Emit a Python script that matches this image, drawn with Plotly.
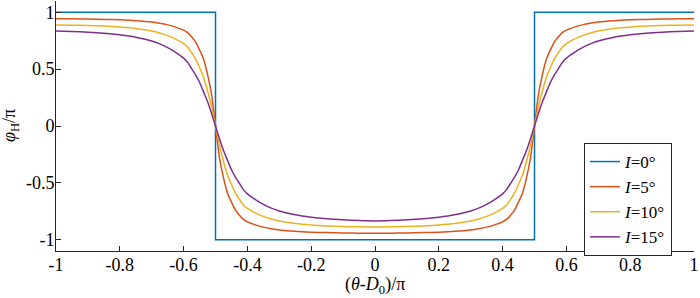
import plotly.graph_objects as go

# ---- data ----
x_step = [-1, -0.5, -0.5, 0.5, 0.5, 1]
y_i0 = [1, 1, -1, -1, 1, 1]

x_curve = [-1, -0.95, -0.9, -0.85, -0.8, -0.75, -0.7, -0.675, -0.65, -0.625, -0.6,
           -0.5875, -0.575, -0.5625, -0.55, -0.5375, -0.525, -0.5125, -0.5,
           -0.4875, -0.475, -0.4625, -0.45, -0.4375, -0.425, -0.4125, -0.4,
           -0.375, -0.35, -0.325, -0.3, -0.25, -0.2, -0.15, -0.1, -0.05, 0,
           0.05, 0.1, 0.15, 0.2, 0.25, 0.3, 0.325, 0.35, 0.375,
           0.4, 0.4125, 0.425, 0.4375, 0.45, 0.4625, 0.475, 0.4875, 0.5,
           0.5125, 0.525, 0.5375, 0.55, 0.5625, 0.575, 0.5875,
           0.6, 0.625, 0.65, 0.675, 0.7, 0.75, 0.8, 0.85, 0.9, 0.95, 1]
y_i5 = [0.944, 0.943, 0.941, 0.938, 0.934, 0.927, 0.915, 0.904, 0.89, 0.87, 0.843,
        0.822, 0.785, 0.74, 0.67, 0.59, 0.455, 0.28, 0,
        -0.28, -0.455, -0.59, -0.67, -0.74, -0.785, -0.822, -0.843,
        -0.87, -0.89, -0.904, -0.915, -0.927, -0.934, -0.938, -0.941, -0.943, -0.944,
        -0.943, -0.941, -0.938, -0.934, -0.927, -0.915, -0.904, -0.89, -0.87,
        -0.843, -0.822, -0.785, -0.74, -0.67, -0.59, -0.455, -0.28, 0,
        0.28, 0.455, 0.59, 0.67, 0.74, 0.785, 0.822,
        0.843, 0.87, 0.89, 0.904, 0.915, 0.927, 0.934, 0.938, 0.941, 0.943, 0.944]
y_i10 = [0.889, 0.887, 0.884, 0.879, 0.871, 0.858, 0.836, 0.818, 0.795, 0.765, 0.725,
         0.695, 0.645, 0.59, 0.515, 0.43, 0.31, 0.17, 0,
         -0.17, -0.31, -0.43, -0.515, -0.59, -0.645, -0.695, -0.725,
         -0.765, -0.795, -0.818, -0.836, -0.858, -0.871, -0.879, -0.884, -0.887, -0.889,
         -0.887, -0.884, -0.879, -0.871, -0.858, -0.836, -0.818, -0.795, -0.765,
         -0.725, -0.695, -0.645, -0.59, -0.515, -0.43, -0.31, -0.17, 0,
         0.17, 0.31, 0.43, 0.515, 0.59, 0.645, 0.695,
         0.725, 0.765, 0.795, 0.818, 0.836, 0.858, 0.871, 0.879, 0.884, 0.887, 0.889]
y_i15 = [0.835, 0.832, 0.826, 0.817, 0.803, 0.782, 0.748, 0.723, 0.69, 0.648, 0.597,
         0.56, 0.505, 0.45, 0.385, 0.3, 0.215, 0.112, 0,
         -0.112, -0.215, -0.3, -0.385, -0.45, -0.505, -0.56, -0.597,
         -0.648, -0.69, -0.723, -0.748, -0.782, -0.803, -0.817, -0.826, -0.832, -0.835,
         -0.832, -0.826, -0.817, -0.803, -0.782, -0.748, -0.723, -0.69, -0.648,
         -0.597, -0.56, -0.505, -0.45, -0.385, -0.3, -0.215, -0.112, 0,
         0.112, 0.215, 0.3, 0.385, 0.45, 0.505, 0.56,
         0.597, 0.648, 0.69, 0.723, 0.748, 0.782, 0.803, 0.817, 0.826, 0.832, 0.835]

series_names = ["<i>I</i>=0°", "<i>I</i>=5°", "<i>I</i>=10°", "<i>I</i>=15°"]
colors = ["#0072BD", "#D95319", "#EDB120", "#7E2F8E"]

x_tickvals = [-1, -0.8, -0.6, -0.4, -0.2, 0, 0.2, 0.4, 0.6, 0.8, 1]
x_ticktext = ["-1", "-0.8", "-0.6", "-0.4", "-0.2", "0", "0.2", "0.4", "0.6", "0.8", "1"]
y_tickvals = [-1, -0.5, 0, 0.5, 1]
y_ticktext = ["-1", "-0.5", "0", "0.5", "1"]
x_title = "(<i>θ</i>-<i>D</i><sub>0</sub>)/π"
y_title = "<i>φ</i><sub>H</sub>/π"

FONT = "Liberation Serif"
FS = 18
FS_LEG = 17

fig = go.Figure()
fig.add_trace(go.Scatter(x=x_step, y=y_i0, mode="lines", name=series_names[0],
                         line=dict(color=colors[0], width=1.5)))
for ys, nm, c in zip([y_i5, y_i10, y_i15], series_names[1:], colors[1:]):
    fig.add_trace(go.Scatter(x=x_curve, y=ys, mode="lines", name=nm,
                             line=dict(color=c, width=1.5, shape="spline", smoothing=0.6)))

axis_common = dict(showgrid=False, zeroline=False, showline=True, linecolor="#262626",
                   linewidth=1, ticks="inside", ticklen=5, tickcolor="#262626",
                   tickwidth=1, tickfont=dict(family=FONT, size=FS, color="#000000"),
                   mirror=False, automargin=False)

fig.update_layout(
    width=700, height=298,
    margin=dict(l=56, r=6, t=1, b=47),
    paper_bgcolor="white", plot_bgcolor="white",
    font=dict(family=FONT, size=FS, color="#000000"),
    xaxis=dict(range=[-1, 1], tickvals=x_tickvals, ticktext=x_ticktext,
               ticklabelstandoff=-3, **axis_common),
    yaxis=dict(range=[-1.1, 1.1], tickvals=y_tickvals, ticktext=y_ticktext,
               ticklabelstandoff=-3, **axis_common),
    legend=dict(x=0.9655, y=0.432, xanchor="right", yanchor="top",
                bgcolor="white", bordercolor="#262626", borderwidth=1,
                font=dict(family=FONT, size=FS_LEG), itemwidth=30,
                tracegroupgap=0),
    showlegend=True,
    annotations=[
        dict(text=x_title, xref="paper", yref="paper", x=0.5, y=-0.136,
             xanchor="center", yanchor="middle", showarrow=False,
             font=dict(family=FONT, size=FS)),
        dict(text=y_title, xref="paper", yref="paper", x=-0.072, y=0.5,
             xanchor="center", yanchor="middle", showarrow=False, textangle=-90,
             font=dict(family=FONT, size=FS)),
    ],
)

fig.write_html("out.html", config={"displayModeBar": False},
               post_script="document.body.style.margin='0';document.body.style.padding='0';")
